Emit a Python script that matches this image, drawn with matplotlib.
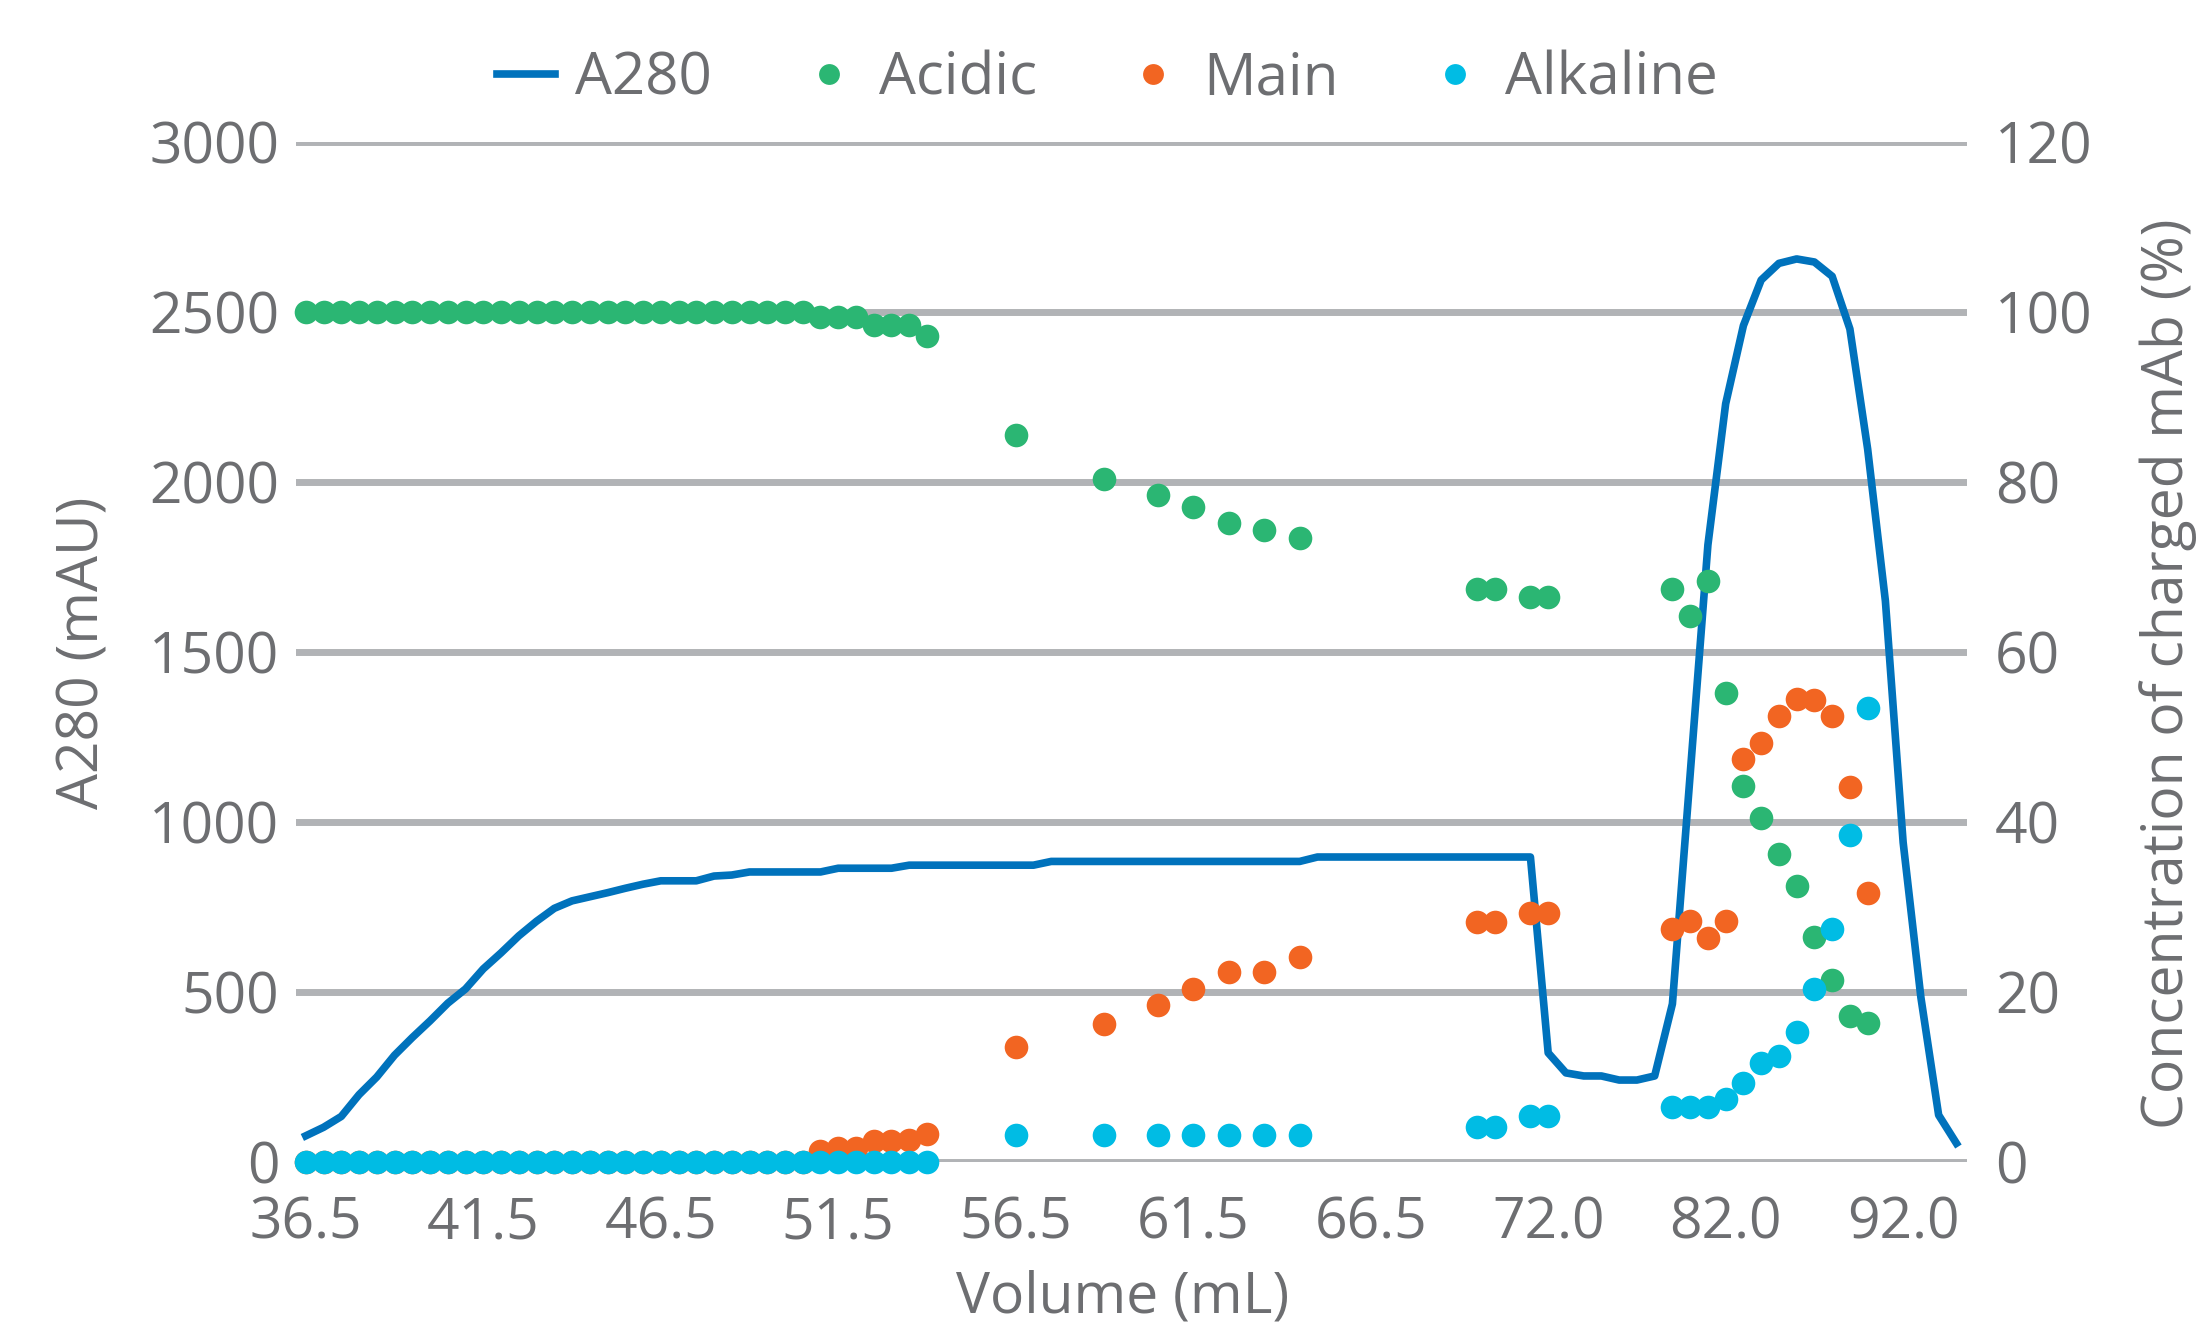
import numpy as np
import matplotlib.pyplot as plt
from matplotlib.lines import Line2D

plt.rcParams['font.family'] = ['Open Sans', 'DejaVu Sans']

# category axis (volume, mL)
volume = [36.5, 37.0, 37.5, 38.0, 38.5, 39.0, 39.5, 40.0, 40.5, 41.0,
          41.5, 42.0, 42.5, 43.0, 43.5, 44.0, 44.5, 45.0, 45.5, 46.0,
          46.5, 47.0, 47.5, 48.0, 48.5, 49.0, 49.5, 50.0, 50.5, 51.0,
          51.5, 52.0, 52.5, 53.0, 53.5, 54.0, 54.5, 55.0, 55.5, 56.0,
          56.5, 57.0, 57.5, 58.0, 58.5, 59.0, 59.5, 60.0, 60.5, 61.0,
          61.5, 62.0, 62.5, 63.0, 63.5, 64.0, 64.5, 65.0, 65.5, 66.0,
          66.5, 67.0, 67.5, 68.0, 68.5, 69.0, 69.5, 70.0, 70.5, 71.0,
          72.0, 73.0, 74.0, 75.0, 76.0, 77.0, 78.0, 79.0, 80.0, 81.0,
          82.0, 83.0, 84.0, 85.0, 86.0, 87.0, 88.0, 89.0, 90.0, 91.0,
          92.0, 93.0, 94.0, 95.0]

a280 = [77, 102, 134, 198, 250, 314, 366, 415, 467, 509,
        568, 615, 665, 708, 746, 768, 780, 792, 805, 817,
        827, 827, 827, 841, 844, 853, 853, 853, 853, 853,
        864, 864, 864, 864, 873, 873, 873, 873, 873, 873,
        873, 873, 884, 884, 884, 884, 884, 884, 884, 884,
        884, 884, 884, 884, 884, 884, 884, 897, 897, 897,
        897, 897, 897, 897, 897, 897, 897, 897, 897, 897,
        321, 262, 253, 253, 241, 241, 253, 465, 1140, 1815,
        2230, 2460, 2594, 2643, 2656, 2647, 2605, 2450, 2097, 1650,
        940, 484, 138, 55]

# fractions analysed for charge variants
frac_volume = [36.5, 37.0, 37.5, 38.0, 38.5, 39.0, 39.5, 40.0, 40.5, 41.0,
               41.5, 42.0, 42.5, 43.0, 43.5, 44.0, 44.5, 45.0, 45.5, 46.0,
               46.5, 47.0, 47.5, 48.0, 48.5, 49.0, 49.5, 50.0, 50.5, 51.0,
               51.5, 52.0, 52.5, 53.0, 53.5, 54.0,
               56.5, 59.0, 60.5, 61.5, 62.5, 63.5, 64.5,
               69.5, 70.0, 71.0, 72.0,
               79.0, 80.0, 81.0, 82.0, 83.0, 84.0, 85.0, 86.0, 87.0, 88.0,
               89.0, 90.0]

acidic = [100, 100, 100, 100, 100, 100, 100, 100, 100, 100,
          100, 100, 100, 100, 100, 100, 100, 100, 100, 100,
          100, 100, 100, 100, 100, 100, 100, 100, 100, 99.4,
          99.4, 99.4, 98.5, 98.5, 98.5, 97.2,
          85.5, 80.4, 78.5, 77.1, 75.2, 74.3, 73.4,
          67.4, 67.4, 66.5, 66.5,
          67.4, 64.2, 68.3, 55.2, 44.2, 40.5, 36.2, 32.5, 26.5, 21.4,
          17.2, 16.3]

main = [0, 0, 0, 0, 0, 0, 0, 0, 0, 0,
        0, 0, 0, 0, 0, 0, 0, 0, 0, 0,
        0, 0, 0, 0, 0, 0, 0, 0, 0, 1.3,
        1.6, 1.6, 2.5, 2.5, 2.6, 3.3,
        13.5, 16.2, 18.5, 20.4, 22.3, 22.3, 24.1,
        28.2, 28.2, 29.3, 29.3,
        27.4, 28.3, 26.4, 28.3, 47.4, 49.3, 52.5, 54.5, 54.4, 52.5,
        44.1, 31.6]

alkaline = [0, 0, 0, 0, 0, 0, 0, 0, 0, 0,
            0, 0, 0, 0, 0, 0, 0, 0, 0, 0,
            0, 0, 0, 0, 0, 0, 0, 0, 0, 0,
            0, 0, 0, 0, 0, 0,
            3.2, 3.2, 3.2, 3.2, 3.2, 3.2, 3.2,
            4.1, 4.1, 5.4, 5.4,
            6.5, 6.5, 6.5, 7.4, 9.3, 11.6, 12.5, 15.3, 20.4, 27.4,
            38.5, 53.4]

grey = '#6d6e71'
grid_c = '#b1b3b6'
fs = 41

x = np.arange(len(volume))
fx = [volume.index(v) for v in frac_volume]

fig = plt.figure(figsize=(22.01, 13.37), dpi=100)
ax = fig.add_axes([0.1345, 0.1309, 0.7592, 0.7629])
ax2 = ax.twinx()

ax.plot(x, a280, color='#0072bc', lw=5.5, solid_joinstyle='round', zorder=3)

for vals, col in [(acidic, '#2bb673'), (main, '#f26522'), (alkaline, '#00bce4')]:
    ax2.plot(fx, vals, 'o', color=col, ms=17, mec='none', clip_on=False)

ax.set_xlim(-0.55, 93.6)
ax.set_ylim(0, 3000)
ax2.set_ylim(0, 120)
ax.set_yticks(range(0, 3001, 500))
ax2.set_yticks(range(0, 121, 20))
ax.set_xticks(x[::10])
ax.set_xticklabels(['%.1f' % v for v in volume[::10]])

ax.grid(axis='y', color=grid_c, lw=5)
ax.set_axisbelow(True)
for a in (ax, ax2):
    for s in a.spines.values():
        s.set_visible(False)
    a.tick_params(length=0, labelsize=fs, labelcolor=grey)
ax.tick_params(axis='x', pad=24)
ax.tick_params(axis='y', pad=12)
ax2.tick_params(axis='y', pad=20)

fig.text(0.038, 0.512, 'A280 (mAU)', rotation=90, ha='center', va='center',
         fontsize=fs, color=grey)
fig.text(0.985, 0.496, 'Concentration of charged mAb (%)', rotation=90,
         ha='center', va='center', fontsize=fs, color=grey)
fig.text(0.510, 0.029, 'Volume (mL)', ha='center', va='center',
         fontsize=fs, color=grey)

handles = [Line2D([], [], color='#0072bc', lw=5.5),
           Line2D([], [], marker='o', ls='', color='#2bb673', ms=15, mec='none'),
           Line2D([], [], marker='o', ls='', color='#f26522', ms=15, mec='none'),
           Line2D([], [], marker='o', ls='', color='#00bce4', ms=15, mec='none')]
leg = fig.legend(handles, ['A280', 'Acidic', 'Main', 'Alkaline'], loc='center',
                 bbox_to_anchor=(0.503, 0.941), ncol=4, frameon=False,
                 fontsize=fs + 1, handlelength=1.0, handletextpad=0.35,
                 columnspacing=1.5)
for t in leg.get_texts():
    t.set_color(grey)

fig.savefig('out.png', dpi=100)
